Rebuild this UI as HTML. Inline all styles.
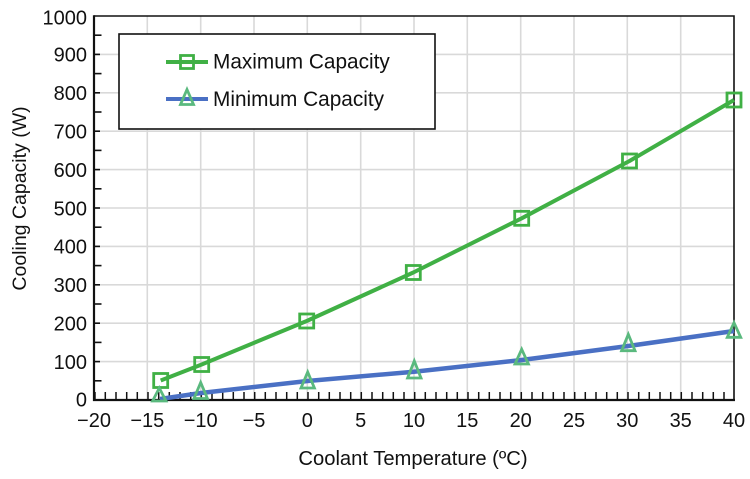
<!DOCTYPE html>
<html><head><meta charset="utf-8"><style>
html,body{margin:0;padding:0;background:#fff;}
svg{display:block;}
text{font-family:"Liberation Sans",Arial,sans-serif;fill:#111;}
</style></head><body>
<svg width="750" height="479" viewBox="0 0 750 479" xmlns="http://www.w3.org/2000/svg">
<rect width="750" height="479" fill="#fff"/>
<!-- grid -->
<g stroke="#d9d9d9" stroke-width="1.6">
<line x1="94" y1="361.6" x2="734" y2="361.6"/>
<line x1="94" y1="323.2" x2="734" y2="323.2"/>
<line x1="94" y1="284.8" x2="734" y2="284.8"/>
<line x1="94" y1="246.4" x2="734" y2="246.4"/>
<line x1="94" y1="208" x2="734" y2="208"/>
<line x1="94" y1="169.6" x2="734" y2="169.6"/>
<line x1="94" y1="131.2" x2="734" y2="131.2"/>
<line x1="94" y1="92.8" x2="734" y2="92.8"/>
<line x1="94" y1="54.4" x2="734" y2="54.4"/>
<line x1="147.3" y1="16" x2="147.3" y2="400"/>
<line x1="200.7" y1="16" x2="200.7" y2="400"/>
<line x1="254" y1="16" x2="254" y2="400"/>
<line x1="307.3" y1="16" x2="307.3" y2="400"/>
<line x1="360.7" y1="16" x2="360.7" y2="400"/>
<line x1="414" y1="16" x2="414" y2="400"/>
<line x1="467.3" y1="16" x2="467.3" y2="400"/>
<line x1="520.7" y1="16" x2="520.7" y2="400"/>
<line x1="574" y1="16" x2="574" y2="400"/>
<line x1="627.3" y1="16" x2="627.3" y2="400"/>
<line x1="680.7" y1="16" x2="680.7" y2="400"/>
</g>
<!-- x ticks -->
<g stroke="#111" stroke-width="1.5" id="xt"></g>
<!-- y ticks -->
<g stroke="#111" stroke-width="1.6">
<line x1="94" y1="380.8" x2="101.5" y2="380.8"/>
<line x1="94" y1="361.6" x2="100" y2="361.6"/>
<line x1="94" y1="342.4" x2="101.5" y2="342.4"/>
<line x1="94" y1="323.2" x2="100" y2="323.2"/>
<line x1="94" y1="304" x2="101.5" y2="304"/>
<line x1="94" y1="284.8" x2="100" y2="284.8"/>
<line x1="94" y1="265.6" x2="101.5" y2="265.6"/>
<line x1="94" y1="246.4" x2="100" y2="246.4"/>
<line x1="94" y1="227.2" x2="101.5" y2="227.2"/>
<line x1="94" y1="208" x2="100" y2="208"/>
<line x1="94" y1="188.8" x2="101.5" y2="188.8"/>
<line x1="94" y1="169.6" x2="100" y2="169.6"/>
<line x1="94" y1="150.4" x2="101.5" y2="150.4"/>
<line x1="94" y1="131.2" x2="100" y2="131.2"/>
<line x1="94" y1="112" x2="101.5" y2="112"/>
<line x1="94" y1="92.8" x2="100" y2="92.8"/>
<line x1="94" y1="73.6" x2="101.5" y2="73.6"/>
<line x1="94" y1="54.4" x2="100" y2="54.4"/>
<line x1="94" y1="35.2" x2="101.5" y2="35.2"/>
</g>
<g stroke="#111" stroke-width="1.5">
<line x1="95" y1="400" x2="95" y2="392"/>
<line x1="105.3" y1="400" x2="105.3" y2="392"/><line x1="116" y1="400" x2="116" y2="392"/><line x1="126.7" y1="400" x2="126.7" y2="392"/><line x1="137.3" y1="400" x2="137.3" y2="392"/><line x1="148" y1="400" x2="148" y2="392"/>
<line x1="158.7" y1="400" x2="158.7" y2="392"/><line x1="169.3" y1="400" x2="169.3" y2="392"/><line x1="180" y1="400" x2="180" y2="392"/><line x1="190.7" y1="400" x2="190.7" y2="392"/><line x1="201.3" y1="400" x2="201.3" y2="392"/>
<line x1="212" y1="400" x2="212" y2="392"/><line x1="222.7" y1="400" x2="222.7" y2="392"/><line x1="233.3" y1="400" x2="233.3" y2="392"/><line x1="244" y1="400" x2="244" y2="392"/><line x1="254.7" y1="400" x2="254.7" y2="392"/>
<line x1="265.3" y1="400" x2="265.3" y2="392"/><line x1="276" y1="400" x2="276" y2="392"/><line x1="286.7" y1="400" x2="286.7" y2="392"/><line x1="297.3" y1="400" x2="297.3" y2="392"/><line x1="308" y1="400" x2="308" y2="392"/>
<line x1="318.7" y1="400" x2="318.7" y2="392"/><line x1="329.3" y1="400" x2="329.3" y2="392"/><line x1="340" y1="400" x2="340" y2="392"/><line x1="350.7" y1="400" x2="350.7" y2="392"/><line x1="361.3" y1="400" x2="361.3" y2="392"/>
<line x1="372" y1="400" x2="372" y2="392"/><line x1="382.7" y1="400" x2="382.7" y2="392"/><line x1="393.3" y1="400" x2="393.3" y2="392"/><line x1="404" y1="400" x2="404" y2="392"/><line x1="414.7" y1="400" x2="414.7" y2="392"/>
<line x1="425.3" y1="400" x2="425.3" y2="392"/><line x1="436" y1="400" x2="436" y2="392"/><line x1="446.7" y1="400" x2="446.7" y2="392"/><line x1="457.3" y1="400" x2="457.3" y2="392"/><line x1="468" y1="400" x2="468" y2="392"/>
<line x1="478.7" y1="400" x2="478.7" y2="392"/><line x1="489.3" y1="400" x2="489.3" y2="392"/><line x1="500" y1="400" x2="500" y2="392"/><line x1="510.7" y1="400" x2="510.7" y2="392"/><line x1="521.3" y1="400" x2="521.3" y2="392"/>
<line x1="532" y1="400" x2="532" y2="392"/><line x1="542.7" y1="400" x2="542.7" y2="392"/><line x1="553.3" y1="400" x2="553.3" y2="392"/><line x1="564" y1="400" x2="564" y2="392"/><line x1="574.7" y1="400" x2="574.7" y2="392"/>
<line x1="585.3" y1="400" x2="585.3" y2="392"/><line x1="596" y1="400" x2="596" y2="392"/><line x1="606.7" y1="400" x2="606.7" y2="392"/><line x1="617.3" y1="400" x2="617.3" y2="392"/><line x1="628" y1="400" x2="628" y2="392"/>
<line x1="638.7" y1="400" x2="638.7" y2="392"/><line x1="649.3" y1="400" x2="649.3" y2="392"/><line x1="660" y1="400" x2="660" y2="392"/><line x1="670.7" y1="400" x2="670.7" y2="392"/><line x1="681.3" y1="400" x2="681.3" y2="392"/>
<line x1="692" y1="400" x2="692" y2="392"/><line x1="702.7" y1="400" x2="702.7" y2="392"/><line x1="713.3" y1="400" x2="713.3" y2="392"/><line x1="724" y1="400" x2="724" y2="392"/>
</g>
<!-- frame -->
<path d="M94,16 H734 V400" fill="none" stroke="#111" stroke-width="1.6"/>
<path d="M94,15.2 V400 H735" fill="none" stroke="#111" stroke-width="2.2"/>
<!-- series -->
<polyline points="160,399 201,393 307.5,381 414,371.7 521.7,360 628.3,346 734,331" fill="none" stroke="#4a70c4" stroke-width="4.5" stroke-linejoin="round"/>
<polyline points="160.7,380.5 201.7,364.5 306.7,321 413.3,272.5 521.7,218.3 629.5,161 734,100" fill="none" stroke="#40b045" stroke-width="4" stroke-linejoin="round"/>
<g fill="none" stroke="#40b045" stroke-width="2.8">
<rect x="153.7" y="373.5" width="14" height="14"/>
<rect x="194.7" y="357.5" width="14" height="14"/>
<rect x="299.7" y="314" width="14" height="14"/>
<rect x="406.3" y="265.5" width="14" height="14"/>
<rect x="514.7" y="211.3" width="14" height="14"/>
<rect x="622.5" y="154" width="14" height="14"/>
<rect x="727" y="93" width="14" height="14"/>
</g>
<g fill="none" stroke="#5ab97e" stroke-width="2.8" stroke-linejoin="miter">
<polygon points="159.3,388 166,401 152.6,401"/>
<polygon points="200.7,382.5 207.4,398.5 194,398.5"/>
<polygon points="307.7,372 314.4,388 301,388"/>
<polygon points="414.3,361 421,378 407.6,378"/>
<polygon points="521.7,349.3 528.4,364 515,364"/>
<polygon points="628.3,334.3 635,350.7 621.6,350.7"/>
<polygon points="734,322.7 740.7,337.3 727.3,337.3"/>
</g>
<!-- legend -->
<rect x="119" y="34" width="316" height="95" fill="#fff" stroke="#111" stroke-width="1.6"/>
<line x1="166" y1="62" x2="208" y2="62" stroke="#40b045" stroke-width="4"/>
<rect x="180.5" y="55.5" width="13" height="13" fill="none" stroke="#40b045" stroke-width="2.8"/>
<line x1="166" y1="99" x2="208" y2="99" stroke="#4a70c4" stroke-width="4"/>
<polygon points="187,89.5 193.5,104.5 180.5,104.5" fill="none" stroke="#5ab97e" stroke-width="2.8"/>
<text x="213" y="68.5" font-size="20.8">Maximum Capacity</text>
<text x="213" y="106" font-size="20.8">Minimum Capacity</text>
<!-- y labels -->
<g font-size="20" text-anchor="end">
<text x="87" y="24.5">1000</text>
<text x="87" y="61.7">900</text>
<text x="87" y="100.1">800</text>
<text x="87" y="138.5">700</text>
<text x="87" y="176.9">600</text>
<text x="87" y="215.3">500</text>
<text x="87" y="253.7">400</text>
<text x="87" y="292.1">300</text>
<text x="87" y="330.5">200</text>
<text x="87" y="368.9">100</text>
<text x="87" y="406.5">0</text>
</g>
<!-- x labels -->
<g font-size="20" text-anchor="middle">
<text x="94" y="427">−20</text>
<text x="147.3" y="427">−15</text>
<text x="200.7" y="427">−10</text>
<text x="254" y="427">−5</text>
<text x="307.3" y="427">0</text>
<text x="360.7" y="427">5</text>
<text x="414" y="427">10</text>
<text x="467.3" y="427">15</text>
<text x="520.7" y="427">20</text>
<text x="574" y="427">25</text>
<text x="627.3" y="427">30</text>
<text x="680.7" y="427">35</text>
<text x="734" y="427">40</text>
</g>
<text x="413" y="465" font-size="20.2" text-anchor="middle">Coolant Temperature (ºC)</text>
<text transform="translate(26,198.5) rotate(-90)" font-size="19.5" text-anchor="middle">Cooling Capacity (W)</text>
</svg>
</body></html>
